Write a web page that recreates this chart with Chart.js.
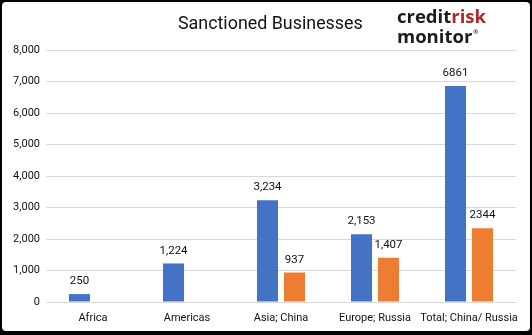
<!DOCTYPE html>
<html>
<head>
<meta charset="utf-8">
<script src="https://cdn.jsdelivr.net/npm/chart.js@4.4.1/dist/chart.umd.min.js"></script>
<style>
  html, body { margin: 0; padding: 0; background: #000; }
  body { width: 532px; height: 335px; overflow: hidden; position: relative; }
  #card {
    position: absolute; left: 2px; top: 2px; width: 528px; height: 329px;
    background: #fff; border-radius: 4px; overflow: hidden;
  }
  #chart { position: absolute; left: 0; top: 0; }
  #title {
    position: absolute; left: 176px; top: 9px;
    font-family: "Roboto", sans-serif;
    font-size: 19px; color: #111; white-space: nowrap;
    transform: scaleX(0.94); transform-origin: left center;
  }
  #logo {
    position: absolute; left: 395px; top: 6px;
    font-family: "Open Sans", "DejaVu Sans", sans-serif; font-weight: 700;
    font-size: 18.5px; line-height: 16px; color: #1c1c1c;
  }
  #logo .risk { color: #b3282d; }
  #logo sup { font-size: 6px; vertical-align: 9px; margin-left: 1px; }
</style>
</head>
<body>
<div id="card">
  <canvas id="chart" width="528" height="329"></canvas>
  <div id="title">Sanctioned Businesses</div>
  <div id="logo">credit<span class="risk">risk</span><br>monitor<sup>®</sup></div>
</div>
<script>
// Sanctioned businesses by region
const categories = ['Africa', 'Americas', 'Asia; China', 'Europe; Russia', 'Total; China/ Russia'];
const blueValues = [250, 1224, 3234, 2153, 6861];
const orangeValues = [null, null, 937, 1407, 2344];
// value labels use thousands separators except in the total group
const useSeparator = [true, true, true, true, false];
const yTicks = [0, 1000, 2000, 3000, 4000, 5000, 6000, 7000, 8000];

const fontFamily = 'Roboto, sans-serif';

const valueLabels = {
  id: 'valueLabels',
  afterDatasetsDraw(chart) {
    const ctx = chart.ctx;
    ctx.save();
    ctx.font = '11.5px ' + fontFamily;
    ctx.fillStyle = '#111';
    ctx.textAlign = 'center';
    ctx.textBaseline = 'bottom';
    chart.data.datasets.forEach((ds, di) => {
      const meta = chart.getDatasetMeta(di);
      meta.data.forEach((bar, i) => {
        const v = ds.data[i];
        if (v === null || v === undefined) return;
        const txt = useSeparator[i] ? v.toLocaleString('en-US') : String(v);
        ctx.fillText(txt, bar.x, bar.y - 7);
      });
    });
    ctx.restore();
  }
};

new Chart(document.getElementById('chart'), {
  type: 'bar',
  data: {
    labels: categories,
    datasets: [
      { data: blueValues, backgroundColor: '#4472c4', categoryPercentage: 0.574, barPercentage: 0.78 },
      { data: orangeValues, backgroundColor: '#ed7d31', categoryPercentage: 0.574, barPercentage: 0.78 }
    ]
  },
  options: {
    responsive: false,
    animation: false,
    layout: { padding: { top: 48, right: 14, bottom: 0, left: 0 } },
    plugins: { legend: { display: false }, tooltip: { enabled: false } },
    scales: {
      x: {
        grid: { display: false, drawTicks: false },
        border: { color: '#d9d9d9' },
        ticks: { color: '#111', font: { family: fontFamily, size: 11 }, padding: 10, maxRotation: 0, autoSkip: false },
        afterFit(axis) { axis.height = 29; }
      },
      y: {
        min: 0, max: 8000,
        afterBuildTicks(axis) { axis.ticks = yTicks.map(v => ({ value: v })); },
        grid: { color: '#d9d9d9', drawTicks: false },
        border: { display: false },
        ticks: {
          color: '#111', padding: 6,
          font: { family: fontFamily, size: 11 },
          callback: v => v.toLocaleString('en-US')
        },
        afterFit(axis) { axis.width = 44; }
      }
    }
  },
  plugins: [valueLabels]
});
</script>
</body>
</html>
